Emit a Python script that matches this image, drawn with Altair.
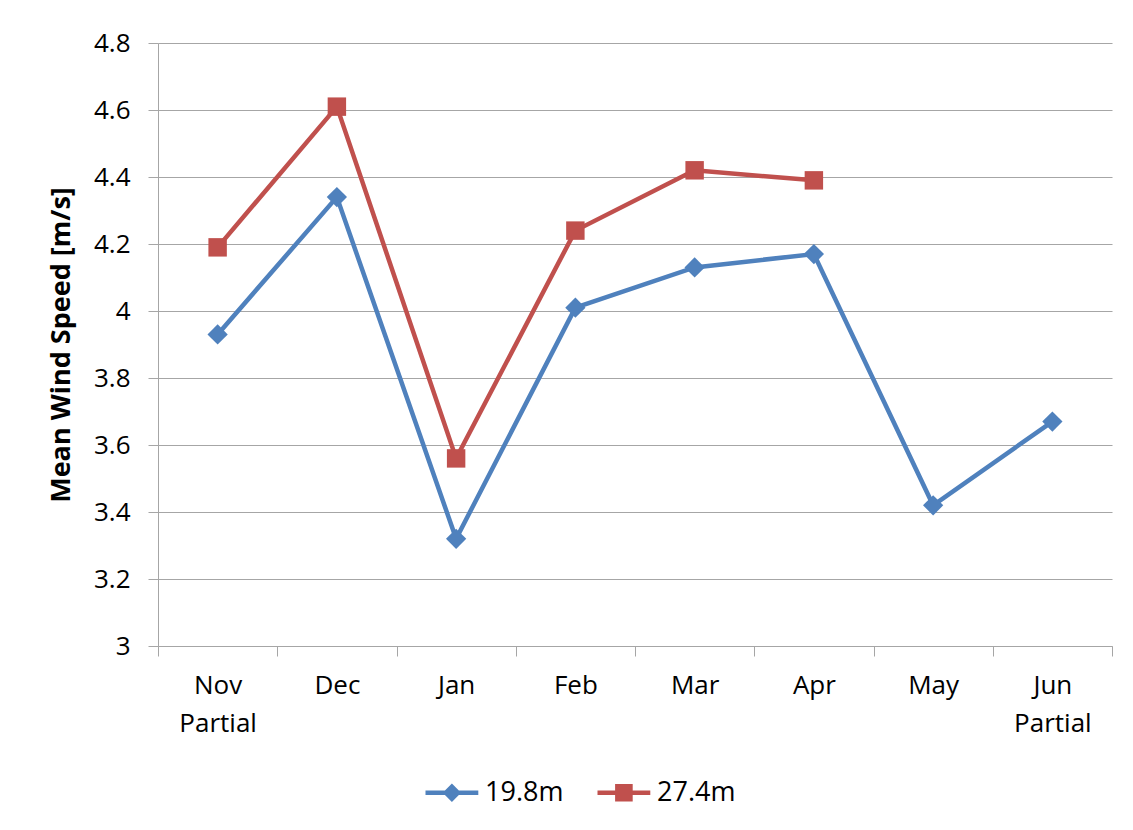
import altair as alt
import pandas as pd

months = ["Nov Partial", "Dec", "Jan", "Feb", "Mar", "Apr", "May", "Jun Partial"]
series_names = ["19.8m", "27.4m"]
values_198 = [3.93, 4.34, 3.32, 4.01, 4.13, 4.17, 3.42, 3.67]
values_274 = [4.19, 4.61, 3.56, 4.24, 4.42, 4.39, None, None]
y_ticks = [3.0, 3.2, 3.4, 3.6, 3.8, 4.0, 4.2, 4.4, 4.6, 4.8]
colors = ["#4F81BD", "#C0504D"]

rows = []
for m, a, b in zip(months, values_198, values_274):
    rows.append({"month": m, "series": series_names[0], "speed": a})
    if b is not None:
        rows.append({"month": m, "series": series_names[1], "speed": b})
df = pd.DataFrame(rows)

FONT = "Open Sans"
GRID = "#A6A6A6"

x_enc = alt.X(
    "month:N",
    sort=months,
    scale=alt.Scale(type="band", paddingInner=0, paddingOuter=0),
    axis=alt.Axis(
        title=None,
        labelAngle=0,
        labelExpr="split(datum.label, ' ')",
        labelLineHeight=38,
        labelFontSize=26,
        labelFont=FONT,
        labelColor="#000000",
        labelPadding=16,
        tickBand="extent",
        tickSize=10,
        tickColor=GRID,
        domainColor=GRID,
        grid=False,
        labelBaseline="top",
    ),
)
y_enc = alt.Y(
    "speed:Q",
    scale=alt.Scale(domain=[3, 4.8], nice=False, zero=False),
    axis=alt.Axis(
        title="Mean Wind Speed [m/s]",
        titleFont=FONT,
        titleFontSize=27,
        titleFontWeight="bold",
        titleColor="#000000",
        titlePadding=18,
        values=y_ticks,
        format=".1~f",
        labelFont=FONT,
        labelFontSize=26,
        labelColor="#000000",
        labelPadding=18,
        tickSize=10,
        tickColor=GRID,
        domainColor=GRID,
        gridColor=GRID,
        gridWidth=1.2,
    ),
)

# marker shapes for the plotted points
marker_paths = ["M0,-1.1L1.1,0L0,1.1L-1.1,0Z", "M-1,-1H1V1H-1Z"]
# legend symbols: a short line with the marker on it
legend_paths = [
    "M-1,-0.28 L5.6,-0.28 L5.6,0.28 L-1,0.28 Z M2.3,-1.15 L3.45,0 L2.3,1.15 L1.15,0 Z",
    "M-1,-0.28 L5.6,-0.28 L5.6,0.28 L-1,0.28 Z M1.2,-1.1 L3.4,-1.1 L3.4,1.1 L1.2,1.1 Z",
]

base = alt.Chart(df)

line_layers = [
    base.transform_filter(alt.datum.series == s)
    .mark_line(strokeWidth=4.5, color=c)
    .encode(x=x_enc, y=y_enc)
    for s, c in zip(series_names, colors)
]
point_layers = [
    base.transform_filter(alt.datum.series == s)
    .mark_point(filled=True, opacity=1, size=340, color=c, shape=p)
    .encode(x=x_enc, y=y_enc)
    for s, c, p in zip(series_names, colors, marker_paths)
]

legend_props = dict(
    title=None,
    orient="none",
    legendX=262,
    legendY=736,
    direction="horizontal",
    symbolSize=256,
    symbolOpacity=1,
    labelFont=FONT,
    labelFontSize=27,
    labelColor="#000000",
    labelOffset=38,
    columnPadding=28,
)

legend_layer = (
    base.transform_filter("false")
    .mark_point(filled=True, opacity=1)
    .encode(
        x=x_enc,
        y=y_enc,
        color=alt.Color(
            "series:N",
            scale=alt.Scale(domain=series_names, range=colors),
            legend=alt.Legend(**legend_props),
        ),
        shape=alt.Shape(
            "series:N",
            scale=alt.Scale(domain=series_names, range=legend_paths),
            legend=alt.Legend(**legend_props),
        ),
    )
)

chart = (
    alt.layer(*line_layers, *point_layers, legend_layer)
    .properties(
        width=954,
        height=603,
        autosize=alt.AutoSizeParams(type="none"),
        padding={"left": 150, "top": 35, "right": 12, "bottom": 170},
        background="white",
    )
    .configure_view(stroke=None)
)

chart.save("out.html", embed_options={"renderer": "svg", "actions": False})
